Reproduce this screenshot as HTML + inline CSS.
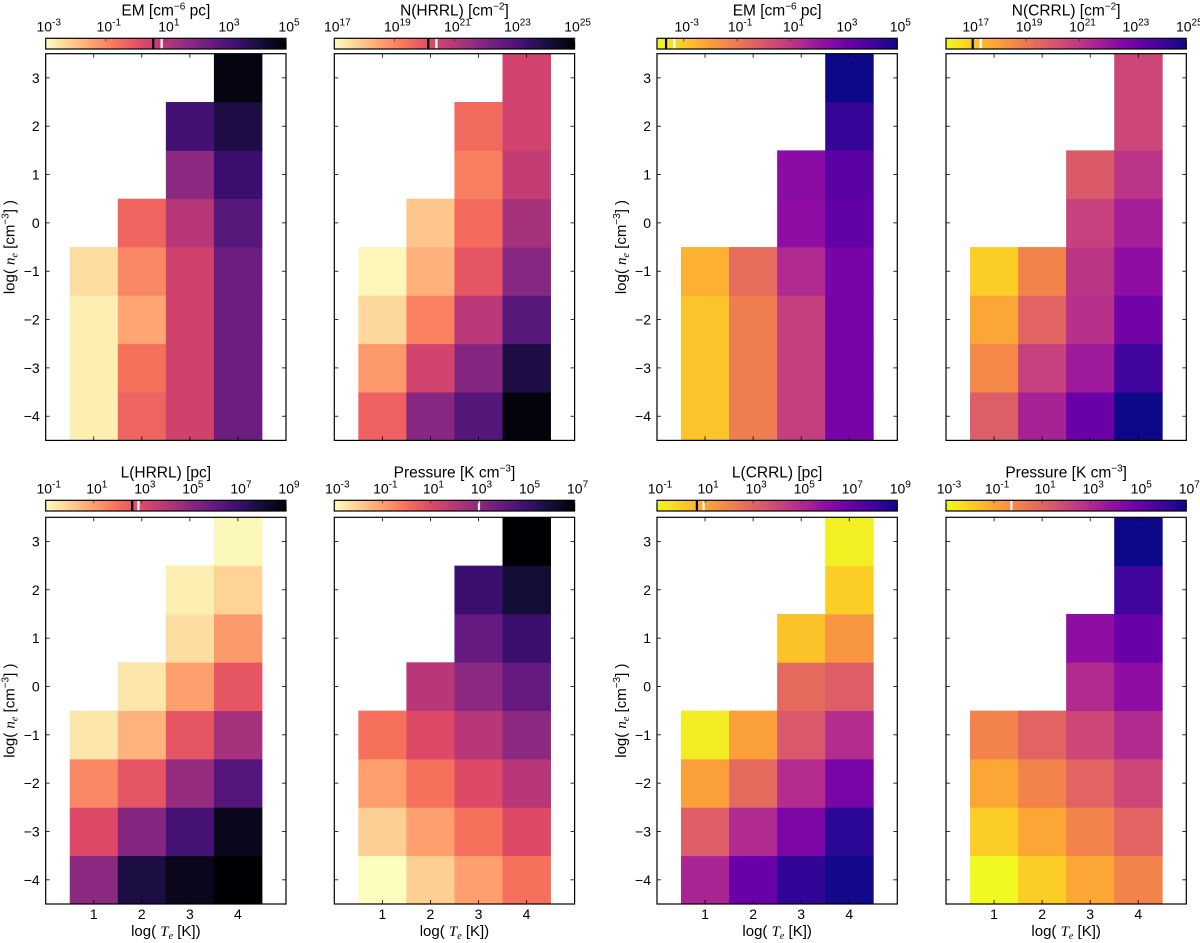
<!DOCTYPE html>
<html><head><meta charset="utf-8"><style>
body{margin:0;background:#fff;}
svg{display:block;font-family:"Liberation Sans",sans-serif;}
</style></head><body>
<svg id="fig" width="1200" height="943" viewBox="0 0 1200 943" xmlns="http://www.w3.org/2000/svg"></svg>
<script>
const xCats=[1,2,3,4];
const yCats=[-4,-3,-2,-1,0,1,2,3];
const xTickLabels=["1","2","3","4"];
const yTickLabels=["\u22124","\u22123","\u22122","\u22121","0","1","2","3"];
// per column (x=1..4), values listed from y=-4 upward (log10)
const emHRRL=[[-2.75,-2.75,-2.75,-2.45],[-0.35,-0.6,-1.5,-1.0,-0.35],[0.5,0.5,0.5,0.5,1.0,1.8,3.25],[2.45,2.45,2.45,2.45,2.85,3.4,4.0,4.8]];
const nHRRL=[[19.7,18.7,17.65,17.1],[21.9,20.45,19.1,18.3,17.95],[22.9,21.95,20.95,19.95,19.5,19.15,19.55],[24.85,24.0,22.85,21.9,21.3,20.75,20.45,20.45]];
const emCRRL=[[-2.85,-2.85,-2.85,-2.45],[-1.1,-1.1,-1.1,-0.65],[0.75,0.75,0.75,1.4,2.3,2.4],[2.9,2.9,2.9,2.9,3.4,3.55,4.3,5.0]];
const nCRRL=[[19.8,18.6,17.8,16.9],[21.65,20.7,19.6,18.7],[23.2,21.9,21.2,21.05,20.7,19.9],[25,24.1,23.0,22.3,21.75,21.1,20.5,20.5]];
const lHRRL=[[5.0,3.0,1.5,-0.5],[7.8,5.2,2.7,0.6,-0.5],[8.5,6.7,4.8,2.7,1.0,-0.3,-0.7],[9,8.5,6.4,4.4,2.7,1.1,-0.1,-0.9]];
const pHRRL=[[-3,-2,-1,0],[-2,-1,0,1,2],[-1,0,1,2,3,4,5],[0,1,2,3,4,5,6,7]];
const lCRRL=[[5.2,3.2,1.2,-0.7],[7.0,5.0,2.8,1.2],[8.3,6.5,4.9,3.4,2.8,0.3],[8.9,8.4,6.6,4.9,3.2,1.5,0,-0.8]];
const pCRRL=[[-3,-2,-1,0],[-2,-1,0,1],[-1,0,1,2,3,4],[0,1,2,3,4,5,6,7]];
// colorbar ranges, tick exponents, marker values
const cbEmH=[-3,5], tkEmH=[-3,-1,1,3,5], mkEmH=[0.58,0.86];
const cbNH=[17,25], tkNH=[17,19,21,23,25], mkNH=[20.13,20.4];
const cbEmC=[-4,5], tkEmC=[-3,-1,1,3,5], mkEmC=[-3.66,-3.35];
const cbNC=[16,25], tkNC=[17,19,21,23,25], mkNC=[17.0,17.3];
const cbLH=[-1,9], tkLH=[-1,1,3,5,7,9], mkLH=[2.6,2.86];
const cbPH=[-3,7], tkPH=[-3,-1,1,3,5,7], mkPH=[null,3.02];
const cbLC=[-1,9], tkLC=[-1,1,3,5,7,9], mkLC=[0.66,0.94];
const cbPC=[-3,7], tkPC=[-3,-1,1,3,5,7], mkPC=[null,-0.28];

const MAGMA=["#000004","#140e36","#3b0f70","#641a80","#8c2981","#b73779","#de4968","#f7705c","#fe9f6d","#fecf92","#fcfdbf"];
const PLASMA=["#0d0887","#41049d","#6a00a8","#8f0da4","#b12a90","#cc4778","#e16462","#f2844b","#fca636","#fcce25","#f0f921"];
function hex(h){return [1,3,5].map(i=>parseInt(h.substr(i,2),16));}
function cmap(stops,t){t=Math.max(0,Math.min(1,t));const f=t*(stops.length-1);const i=Math.min(stops.length-2,Math.floor(f));const r=f-i;const a=hex(stops[i]),b=hex(stops[i+1]);return "rgb("+a.map((v,k)=>Math.round(v+(b[k]-v)*r)).join(",")+")";}

const NS="http://www.w3.org/2000/svg";
const svg=document.getElementById('fig');
function el(tag,attrs,parent){const e=document.createElementNS(NS,tag);for(const k in attrs)e.setAttribute(k,attrs[k]);(parent||svg).appendChild(e);return e;}

const W=240.3,H=386.7;
const panels=[
 {l:45.7,t:53.7,data:emHRRL,cm:MAGMA,cb:cbEmH,tk:tkEmH,mk:mkEmH,title:["EM [cm","\u22126"," pc]"],name:"em-hrrl",ylab:true,xlab:false},
 {l:334.3,t:53.7,data:nHRRL,cm:MAGMA,cb:cbNH,tk:tkNH,mk:mkNH,title:["N(HRRL) [cm","\u22122","]"],name:"n-hrrl",ylab:false,xlab:false},
 {l:657,t:53.7,data:emCRRL,cm:PLASMA,cb:cbEmC,tk:tkEmC,mk:mkEmC,title:["EM [cm","\u22126"," pc]"],name:"em-crrl",ylab:true,xlab:false},
 {l:946,t:53.7,data:nCRRL,cm:PLASMA,cb:cbNC,tk:tkNC,mk:mkNC,title:["N(CRRL) [cm","\u22122","]"],name:"n-crrl",ylab:false,xlab:false},
 {l:45.7,t:517.3,data:lHRRL,cm:MAGMA,cb:cbLH,tk:tkLH,mk:mkLH,title:["L(HRRL) [pc]"],name:"l-hrrl",ylab:true,xlab:true},
 {l:334.3,t:517.3,data:pHRRL,cm:MAGMA,cb:cbPH,tk:tkPH,mk:mkPH,title:["Pressure [K cm","\u22123","]"],name:"pressure-hrrl",ylab:false,xlab:true},
 {l:657,t:517.3,data:lCRRL,cm:PLASMA,cb:cbLC,tk:tkLC,mk:mkLC,title:["L(CRRL) [pc]"],name:"l-crrl",ylab:true,xlab:true},
 {l:946,t:517.3,data:pCRRL,cm:PLASMA,cb:cbPC,tk:tkPC,mk:mkPC,title:["Pressure [K cm","\u22123","]"],name:"pressure-crrl",ylab:false,xlab:true}
];
let gid=0;
panels.forEach(p=>{
  const g=el('g',{});
  
  
  const xs=v=>p.l+(v/5)*W;
  const ys=v=>p.t+((3.5-v)/8)*H;
  const frac=v=>(v-p.cb[0])/(p.cb[1]-p.cb[0]);
  const color=v=>cmap(p.cm,1-frac(v));
  p.data.forEach((col,ci)=>{
    col.forEach((v,ri)=>{
      const xv=xCats[ci],yv=yCats[ri];
      const r=el('rect',{x:xs(xv-0.5),y:ys(yv+0.5),width:xs(xv+0.5)-xs(xv-0.5)+0.4,height:ys(yv-0.5)-ys(yv+0.5)+0.4,fill:color(v)},g);
      
      
    });
  });
  const fr=el('rect',{x:p.l,y:p.t,width:W,height:H,fill:'none',stroke:'#000','stroke-width':1.2},g);
  
  
  xCats.forEach((xv,i)=>{
    el('line',{x1:xs(xv),x2:xs(xv),y1:p.t+H,y2:p.t+H-4,stroke:'#000','stroke-width':0.8},g);
    el('line',{x1:xs(xv),x2:xs(xv),y1:p.t,y2:p.t+4,stroke:'#000','stroke-width':0.8},g);
    if(p.xlab){const t=el('text',{x:xs(xv),y:p.t+H+15,'font-size':14,'text-anchor':'middle'},g);t.textContent=xTickLabels[i];
      
      }
  });
  yCats.forEach((yv,i)=>{
    el('line',{x1:p.l,x2:p.l+4,y1:ys(yv),y2:ys(yv),stroke:'#000','stroke-width':0.8},g);
    el('line',{x1:p.l+W,x2:p.l+W-4,y1:ys(yv),y2:ys(yv),stroke:'#000','stroke-width':0.8},g);
    if(p.ylab){const t=el('text',{x:p.l-6,y:ys(yv)+5,'font-size':14,'text-anchor':'end'},g);t.textContent=yTickLabels[i];
      
      }
  });
  if(p.xlab){
    const t=el('text',{x:p.l+W/2,y:p.t+H+32,'font-size':15,'text-anchor':'middle'},g);
    
    
    t.innerHTML='log( <tspan font-family="Liberation Serif" font-style="italic">T</tspan><tspan font-family="Liberation Serif" font-style="italic" font-size="10" dy="3">e</tspan><tspan dy="-3"> [K])</tspan>';
  }
  if(p.ylab){
    const cy=p.t+H/2;
    const t=el('text',{x:0,y:0,'font-size':15,'text-anchor':'middle',transform:'translate('+(p.l-31)+','+cy+') rotate(-90)'},g);
    
    
    t.innerHTML='log( <tspan font-family="Liberation Serif" font-style="italic">n</tspan><tspan font-family="Liberation Serif" font-style="italic" font-size="10" dy="3">e</tspan><tspan dy="-3"> [cm</tspan><tspan font-size="10" dy="-6">\u22123</tspan><tspan dy="6">] )</tspan>';
  }
  const cbT=p.t<300?38.3:500.3, cbH=10.7;
  const id='grad'+(gid++);
  const defs=el('defs',{},g);
  const lg=el('linearGradient',{id:id,x1:0,x2:1,y1:0,y2:0},defs);
  for(let i=0;i<=40;i++){el('stop',{offset:(i/40),'stop-color':cmap(p.cm,1-i/40)},lg);}
  const cb=el('rect',{x:p.l,y:cbT,width:W,height:cbH,fill:'url(#'+id+')',stroke:'#000','stroke-width':1.2},g);
  
  
  const cx=v=>p.l+frac(v)*W;
  if(p.mk[0]!==null){const m=el('line',{x1:cx(p.mk[0]),x2:cx(p.mk[0]),y1:cbT,y2:cbT+cbH,stroke:'#000','stroke-width':2.2},g);
    
    }
  if(p.mk[1]!==null){const m=el('line',{x1:cx(p.mk[1]),x2:cx(p.mk[1]),y1:cbT+0.8,y2:cbT+cbH-0.8,stroke:'#fff','stroke-width':2.2},g);
    
    }
  p.tk.forEach(e=>{
    el('line',{x1:cx(e),x2:cx(e),y1:cbT,y2:cbT+3,stroke:'#333','stroke-width':0.8},g);
    const t=el('text',{x:cx(e)+3,y:cbT-7,'font-size':14,'text-anchor':'middle'},g);
    
    
    t.innerHTML='10<tspan font-size="10" dy="-6">'+(e<0?'-'+(-e):e)+'</tspan>';
  });
  const tt=el('text',{x:p.l+W/2,y:cbT-23,'font-size':15.5,'text-anchor':'middle'},g);
  
  
  if(p.title.length===1){tt.textContent=p.title[0];}
  else{tt.innerHTML=p.title[0]+'<tspan font-size="10" dy="-6">'+p.title[1]+'</tspan><tspan dy="6">'+p.title[2]+'</tspan>';}
});
</script>
</body></html>
